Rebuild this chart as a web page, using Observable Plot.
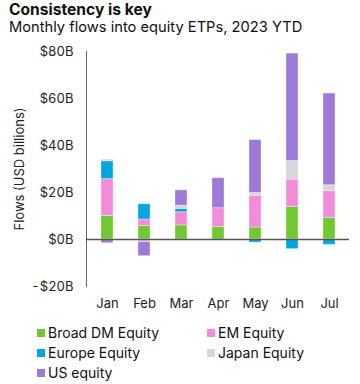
<!DOCTYPE html>
<html>
<head>
<meta charset="utf-8">
<script src="https://cdn.jsdelivr.net/npm/d3@7"></script>
<script src="https://cdn.jsdelivr.net/npm/@observablehq/plot@0.6"></script>
<style>
  body { margin: 0; background: #fff; font-family: Inter, "Open Sans", sans-serif; color: #111; }
  #wrap { position: relative; width: 360px; height: 384px; overflow: hidden; }
  #title { position: absolute; left: 9px; top: 0px; font-size: 15.6px; font-weight: 700; }
  #subtitle { position: absolute; left: 9px; top: 18px; font-size: 14.7px; }
  #chart { position: absolute; left: 0; top: 40px; }
  #legend { position: absolute; left: 37px; top: 324px; display: grid; grid-template-columns: 170px 150px; row-gap: 3px; font-size: 14px; }
  .item { display: flex; align-items: center; height: 17px; }
  .sw { width: 8px; height: 8px; margin-right: 3px; }
</style>
</head>
<body>
<div id="wrap">
  <div id="title">Consistency is key</div>
  <div id="subtitle">Monthly flows into equity ETPs, 2023 YTD</div>
  <div id="chart"></div>
  <div id="legend"></div>
</div>
<script>
const months = ["Jan", "Feb", "Mar", "Apr", "May", "Jun", "Jul"];
const seriesNames = ["Broad DM Equity", "EM Equity", "Europe Equity", "Japan Equity", "US equity"];
const seriesColors = ["#70c92e", "#f48bd8", "#00a6e1", "#d6d6db", "#9f79d9"];
const broadDM = [10, 5.7, 6, 5.3, 5.1, 13.9, 9.2];
const emEquity = [15.7, 2.8, 5.6, 8, 13.5, 11.6, 11.4];
const europeEquity = [7.6, 6.5, 1.4, 0, -1.3, -4.1, -2.3];
const japanEquity = [0.7, -1.1, 1.4, 0, 1.2, 7.9, 2.5];
const usEquity = [-1.6, -6, 6.5, 12.8, 22.5, 45.7, 39];
const yTicks = [-20, 0, 20, 40, 60, 80];

const seriesValues = [broadDM, emEquity, europeEquity, japanEquity, usEquity];
const data = [];
seriesNames.forEach((s, i) => months.forEach((m, j) => data.push({month: m, series: s, value: seriesValues[i][j]})));

const fmt = d => (d < 0 ? "-" : "") + "$" + Math.abs(d) + "B";

const chart = Plot.plot({
  width: 360,
  height: 276,
  marginLeft: 86,
  marginRight: 11,
  marginTop: 11,
  marginBottom: 30,
  style: {fontFamily: "Inter, 'Open Sans', sans-serif", fontSize: "13px", color: "#222"},
  x: {domain: months, paddingInner: 0.68, paddingOuter: 0.33, label: null},
  y: {domain: [-20, 80], label: null},
  color: {domain: seriesNames, range: seriesColors},
  marks: [
    Plot.barY(data, {x: "month", y: "value", fill: "series", stroke: "white", strokeOpacity: 0.35, strokeWidth: 1}),
    Plot.frame({anchor: "left", stroke: "#666"}),
    Plot.ruleY([0], {stroke: "#555", strokeWidth: 1.3}),
    Plot.axisY({ticks: yTicks, tickFormat: fmt, tickSize: 0, tickPadding: 13, label: "Flows (USD billions)", labelAnchor: "center", labelArrow: "none", labelOffset: 72, fontSize: 13}),
    Plot.axisX({tickSize: 0, tickPadding: 12, label: null, fontSize: 13})
  ]
});
document.getElementById("chart").appendChild(chart);

const legend = document.getElementById("legend");
seriesNames.forEach((s, i) => {
  const it = document.createElement("div");
  it.className = "item";
  it.innerHTML = `<span class="sw" style="background:${seriesColors[i]}"></span><span>${s}</span>`;
  legend.appendChild(it);
});
</script>
</body>
</html>
